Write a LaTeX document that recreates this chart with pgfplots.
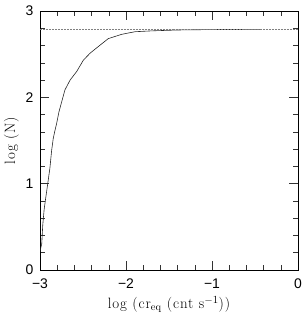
\documentclass[border=0pt]{standalone}
\usepackage{fontspec}
\newfontfamily\ticksans{Liberation Sans}
\newfontfamily\labserif[LetterSpace=6]{Latin Modern Roman}
\usepackage{pgfplots}
\pgfplotsset{compat=1.18}
\begin{document}
\begin{tikzpicture}
\begin{axis}[
  width=258bp, height=259bp, scale only axis,
  xmin=-3, xmax=0, ymin=0, ymax=3,
  xtick={-3,-2,-1,0}, xticklabels={−3,−2,−1,0},
  ytick={0,1,2,3}, yticklabels={0,1,2,3},
  minor x tick num=4, minor y tick num=4,
  tick align=inside,
  major tick length=9bp, minor tick length=5bp,
  every tick/.style={black!80, line width=0.5pt},
  axis line style={line width=0.6pt},
  tick label style={font=\ticksans\fontsize{14}{15}\selectfont},
  xticklabel style={yshift=-5bp},
  yticklabel style={xshift=-3bp},
  label style={font=\labserif\fontsize{15}{16}\selectfont},
  xlabel={log (cr$_{\rm eq}$ (cnt s$^{-1}$))},
  ylabel={log (N)},
  xlabel style={yshift=-1bp},
  ylabel style={yshift=0bp},
]
\addplot[black!85, line width=0.6pt] coordinates {
(-3.000,0.21) (-2.990,0.26) (-2.980,0.30) (-2.968,0.52) (-2.952,0.70)
(-2.930,0.86) (-2.910,1.00) (-2.885,1.18) (-2.864,1.39) (-2.845,1.53)
(-2.825,1.62) (-2.806,1.70) (-2.780,1.83) (-2.750,1.94) (-2.710,2.086)
(-2.650,2.20) (-2.573,2.30) (-2.496,2.43) (-2.419,2.51) (-2.320,2.59)
(-2.206,2.68) (-2.050,2.73) (-1.895,2.76) (-1.700,2.77) (-1.400,2.78)
(-1.000,2.785) (-0.440,2.787)
};
\addplot[gray, densely dotted, line width=0.5pt] coordinates {(-3,2.79) (0,2.79)};
\end{axis}
\pgfresetboundingbox
\path ([shift={(-40bp,-44bp)}]current axis.south west) rectangle ([shift={(4bp,11bp)}]current axis.north east);
\end{tikzpicture}
\end{document}
